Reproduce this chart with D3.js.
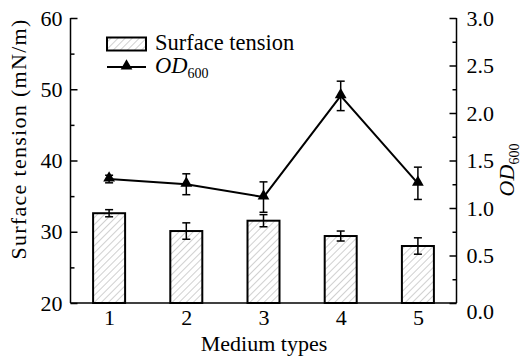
<!DOCTYPE html>
<html><head><meta charset="utf-8">
<script src="https://cdn.jsdelivr.net/npm/d3@7"></script>
<style>body{margin:0;background:#fff}svg{display:block}text{font-family:"Liberation Serif","Times New Roman",serif;fill:#000}</style>
</head><body><svg id="c" width="523" height="356"></svg>
<script>
const categories = [1, 2, 3, 4, 5];
const tension = [32.6, 30.1, 31.55, 29.4, 28.0];
const tensionErr = [0.5, 1.15, 0.85, 0.7, 1.15];
const od = [1.305, 1.25, 1.115, 2.18, 1.26];
const odErr = [0.04, 0.11, 0.16, 0.155, 0.17];
const leftTicks = [20, 30, 40, 50, 60];
const leftMinor = [25, 35, 45, 55];
const rightTicks = [0, 0.5, 1.0, 1.5, 2.0, 2.5, 3.0];
const rightMinor = [0.25, 0.75, 1.25, 1.75, 2.25, 2.75];

const svg = d3.select("#c");
const L = 70.5, R = 456.5, T = 18, B = 303;
const x = d3.scaleLinear().domain([0.5, 5.5]).range([L, R]);
const yL = d3.scaleLinear().domain([20, 60]).range([B, T]);
const yR = d3.scaleLinear().domain([0, 3]).range([B, T]);

const defs = svg.append("defs");
const pat = defs.append("pattern").attr("id", "hatch").attr("patternUnits", "userSpaceOnUse")
  .attr("width", 5).attr("height", 5).attr("patternTransform", "rotate(45)");
pat.append("rect").attr("width", 5).attr("height", 5).attr("fill", "#fff");
pat.append("line").attr("x1", 0).attr("y1", 0).attr("x2", 0).attr("y2", 5)
  .attr("stroke", "#8a8a8a").attr("stroke-width", 0.8);

const bw = 32;
svg.selectAll(".bar").data(categories).enter().append("rect")
  .attr("x", d => x(d) - bw / 2).attr("y", (d, i) => yL(tension[i]))
  .attr("width", bw).attr("height", (d, i) => B - yL(tension[i]))
  .attr("fill", "url(#hatch)").attr("stroke", "#000").attr("stroke-width", 2);

function errBars(vals, errs, scale) {
  const g = svg.append("g").attr("stroke", "#000").attr("stroke-width", 1.5);
  categories.forEach((c, i) => {
    const cx = x(c), y1 = scale(vals[i] + errs[i]), y2 = scale(vals[i] - errs[i]);
    g.append("line").attr("x1", cx).attr("x2", cx).attr("y1", y1).attr("y2", y2);
    g.append("line").attr("x1", cx - 4).attr("x2", cx + 4).attr("y1", y1).attr("y2", y1);
    g.append("line").attr("x1", cx - 4).attr("x2", cx + 4).attr("y1", y2).attr("y2", y2);
  });
}
errBars(tension, tensionErr, yL);

svg.append("path").datum(categories)
  .attr("d", d3.line().x(d => x(d)).y((d, i) => yR(od[i])))
  .attr("fill", "none").attr("stroke", "#000").attr("stroke-width", 2);
errBars(od, odErr, yR);
const tri = d3.symbol().type(d3.symbolTriangle).size(60);
svg.selectAll(".tri").data(categories).enter().append("path")
  .attr("d", tri).attr("transform", (d, i) => `translate(${x(d)},${yR(od[i]) - 1})`)
  .attr("fill", "#000");

const FS = "22px";
const axStyle = g => {
  g.attr("font-family", null).attr("font-size", null);
  g.selectAll("path").attr("stroke", "#000").attr("stroke-width", 1.5);
  g.selectAll("line").attr("stroke", "#000").attr("stroke-width", 1.5);
  g.selectAll("text").style("font-family", "'Liberation Serif', serif").style("font-size", FS).attr("fill", "#000");
};
svg.append("g").attr("transform", `translate(${L},0)`)
  .call(d3.axisLeft(yL).tickValues(leftTicks).tickSize(-7).tickPadding(8).tickFormat(d3.format("d")).tickSizeOuter(0))
  .call(axStyle).call(g => g.select(".domain").attr("d", `M0,${T}V${B}`));
svg.append("g").attr("transform", `translate(${L},0)`)
  .call(d3.axisLeft(yL).tickValues(leftMinor).tickSize(-4).tickFormat("").tickSizeOuter(0))
  .call(axStyle).call(g => g.select(".domain").remove());
svg.append("g").attr("transform", `translate(${R},0)`)
  .call(d3.axisRight(yR).tickValues(rightTicks).tickSize(-7).tickPadding(10).tickFormat(d3.format(".1f")).tickSizeOuter(0))
  .call(axStyle).call(g => g.select(".domain").attr("d", `M0,${T}V${B}`))
  .call(g => g.selectAll(".tick text").filter(d => d === 0).attr("y", 8));
svg.append("g").attr("transform", `translate(${R},0)`)
  .call(d3.axisRight(yR).tickValues(rightMinor).tickSize(-4).tickFormat("").tickSizeOuter(0))
  .call(axStyle).call(g => g.select(".domain").remove());
svg.append("g").attr("transform", `translate(0,${B})`)
  .call(d3.axisBottom(x).tickValues(categories).tickSize(0).tickPadding(6).tickFormat(d3.format("d")).tickSizeOuter(0))
  .call(axStyle).call(g => g.select(".domain").attr("d", `M${L},0H${R}`));

svg.append("text").attr("x", 264).attr("y", 351).attr("text-anchor", "middle")
  .style("font-size", "22px").text("Medium types");
svg.append("text").attr("transform", "translate(26,139) rotate(-90)").attr("text-anchor", "middle")
  .style("font-size", "22px").style("letter-spacing", "1.3px").text("Surface tension (mN/m)");
const rt = svg.append("text").attr("transform", "translate(514,170) rotate(-90)").attr("text-anchor", "middle")
  .style("font-size", "22px");
rt.append("tspan").style("font-style", "italic").text("OD");
rt.append("tspan").attr("dy", 5).style("font-size", "14px").text("600");

svg.append("rect").attr("x", 107).attr("y", 37.5).attr("width", 39).attr("height", 13)
  .attr("fill", "url(#hatch)").attr("stroke", "#000").attr("stroke-width", 2);
svg.append("text").attr("x", 155).attr("y", 50).style("font-size", "22.5px").text("Surface tension");
svg.append("line").attr("x1", 107).attr("x2", 146).attr("y1", 67).attr("y2", 67)
  .attr("stroke", "#000").attr("stroke-width", 2);
svg.append("path").attr("d", tri).attr("transform", "translate(126.5,66)").attr("fill", "#000");
const lt = svg.append("text").attr("x", 155).attr("y", 73).style("font-size", "22.5px");
lt.append("tspan").style("font-style", "italic").text("OD");
lt.append("tspan").attr("dy", 5).style("font-size", "14px").text("600");
</script></body></html>
